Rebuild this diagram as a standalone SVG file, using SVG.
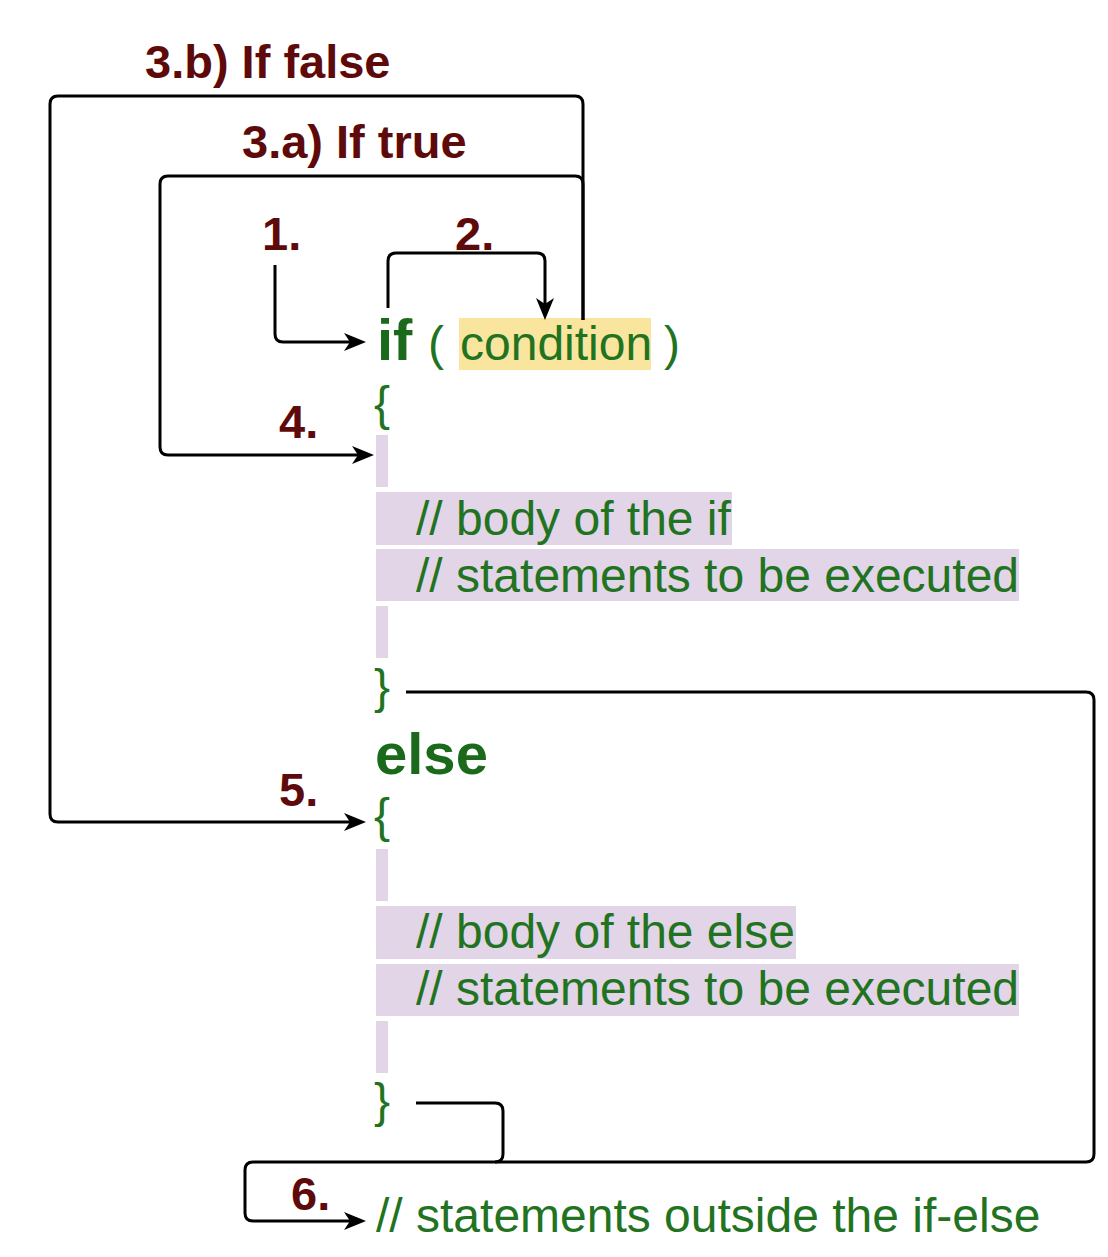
<svg xmlns="http://www.w3.org/2000/svg" width="1108" height="1257" viewBox="0 0 1108 1257">
<defs>
<path id="ah" d="M-22,-9 L0,0 L-22,9 L-16,0 Z" fill="#000"/>
</defs>
<style>
.lbl{font-family:"Liberation Sans",Arial,sans-serif;font-weight:bold;font-size:47px;fill:#5e0a0a}
.kw{font-family:"Liberation Sans",Arial,sans-serif;font-weight:bold;font-size:58px;fill:#1b6a1b}
.code{font-family:"Liberation Sans",Arial,sans-serif;font-size:48px;fill:#22731f}
.hl{fill:#e1d5e7}
.cond{fill:#fae59f}
.wire{fill:none;stroke:#000;stroke-width:3;stroke-linejoin:round}
</style>
<rect width="1108" height="1257" fill="#fff"/>
<g id="highlights">
<rect class="cond" x="459" y="318" width="192" height="52"/>
<rect class="hl" x="376" y="435" width="12" height="52"/>
<rect class="hl" x="376" y="492" width="356" height="53"/>
<rect class="hl" x="376" y="549" width="643" height="52"/>
<rect class="hl" x="376" y="606" width="12" height="52"/>
<rect class="hl" x="376" y="849" width="12" height="52"/>
<rect class="hl" x="376" y="906" width="420" height="53"/>
<rect class="hl" x="376" y="964" width="643" height="52"/>
<rect class="hl" x="376" y="1021" width="12" height="52"/>
</g>
<g id="connectors">
<path class="wire" d="M275,265 V334 Q275,342 283,342 H352"/>
<use href="#ah" transform="translate(366,342)"/>
<path class="wire" d="M388,308 V261 Q388,253 396,253 H537 Q545,253 545,261 V306"/>
<use href="#ah" transform="translate(545,320) rotate(90)"/>
<path class="wire" d="M583,320 V184 Q583,176 575,176 H168 Q160,176 160,184 V447 Q160,455 168,455 H360"/>
<use href="#ah" transform="translate(374,455)"/>
<path class="wire" d="M583,320 V104 Q583,96 575,96 H58 Q50,96 50,104 V814 Q50,822 58,822 H352"/>
<use href="#ah" transform="translate(366,822)"/>
<path class="wire" d="M406,692 H1086 Q1094,692 1094,700 V1154 Q1094,1162 1086,1162 H253 Q245,1162 245,1170 V1213 Q245,1221 253,1221 H352"/>
<use href="#ah" transform="translate(366,1221)"/>
<path class="wire" d="M416,1103 H495 Q503,1103 503,1111 V1154 Q503,1162 495,1162"/>
</g>
<g id="labels">
<text class="lbl" x="145" y="78">3.b) If false</text>
<text class="lbl" x="242" y="158">3.a) If true</text>
<text class="lbl" x="262" y="250">1.</text>
<text class="lbl" x="455" y="250">2.</text>
<text class="lbl" x="279" y="438">4.</text>
<text class="lbl" x="279" y="806">5.</text>
<text class="lbl" x="291" y="1210">6.</text>
</g>
<g id="code">
<text class="kw" x="377" y="360">if</text>
<text class="code" x="428" y="360">(</text>
<text class="code" x="460" y="360">condition</text>
<text class="code" x="664" y="360">)</text>
<text class="code" x="374" y="420">{</text>
<text class="code" x="416" y="535">// body of the if</text>
<text class="code" x="416" y="592">// statements to be executed</text>
<text class="code" x="374" y="703">}</text>
<text class="kw" x="375" y="774">else</text>
<text class="code" x="374" y="832">{</text>
<text class="code" x="416" y="948">// body of the else</text>
<text class="code" x="416" y="1005">// statements to be executed</text>
<text class="code" x="374" y="1117">}</text>
<text class="code" x="376" y="1232">// statements outside the if-else</text>
</g>
</svg>
